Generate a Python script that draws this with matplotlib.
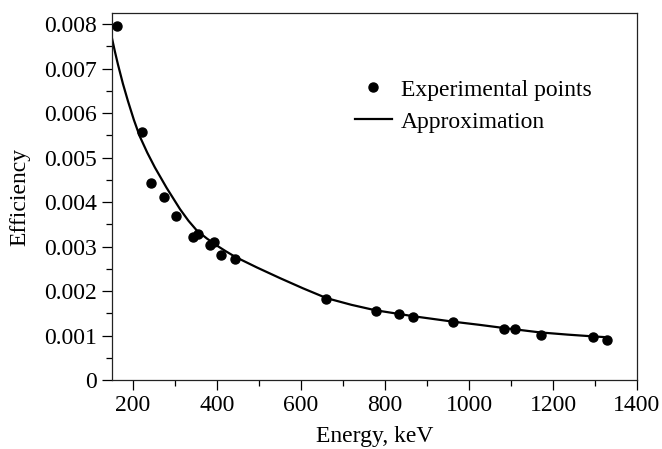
import matplotlib
matplotlib.use("Agg")
import matplotlib.pyplot as plt
from matplotlib.ticker import MultipleLocator, FuncFormatter

# Experimental points (energy keV, efficiency)
energy_exp = [161, 222, 243, 274, 302, 342, 355, 383, 394, 409, 444, 660,
              778, 833, 866, 963, 1083, 1109, 1171, 1296, 1329]
eff_exp = [0.00796, 0.00558, 0.00442, 0.00412, 0.00369, 0.00322, 0.00328,
           0.00303, 0.00311, 0.00282, 0.00273, 0.00182, 0.00156, 0.00148,
           0.00142, 0.00130, 0.00114, 0.00115, 0.00101, 0.00097, 0.00091]

# Approximation curve
energy_fit = [150, 157, 164, 176, 188, 202, 216, 234, 252, 266, 280, 296, 312,
              332, 352, 376, 400, 420, 443, 495, 550, 605, 661, 720, 776, 870,
              963, 1025, 1082, 1169, 1235, 1296, 1330]
eff_fit = [0.00768, 0.00738, 0.00710, 0.00666, 0.00627, 0.00585, 0.00548,
           0.00511, 0.00478, 0.00455, 0.00432, 0.00408, 0.00384, 0.00358,
           0.00336, 0.00318, 0.00302, 0.00290, 0.00277, 0.00253, 0.00229,
           0.00206, 0.00184, 0.00169, 0.00157, 0.00143, 0.00131, 0.00124,
           0.00117, 0.00107, 0.00102, 0.00098, 0.00096]

x_ticks = [200, 400, 600, 800, 1000, 1200, 1400]
y_ticks = [0, 0.001, 0.002, 0.003, 0.004, 0.005, 0.006, 0.007, 0.008]

plt.rcParams['font.family'] = ['Liberation Serif', 'DejaVu Serif']
plt.rcParams['font.size'] = 17

fig = plt.figure(figsize=(6.62, 4.49), dpi=100)
ax = fig.add_axes([112/662, (449-380)/449, 525/662, 367/449])

ax.plot(energy_fit, eff_fit, color='black', lw=1.6, label='Approximation', zorder=2)
ax.plot(energy_exp, eff_exp, 'o', color='black', ms=6.5, label='Experimental points',
        zorder=3)

ax.set_xlim(150, 1400)
ax.set_ylim(0, 0.00825)
ax.set_xticks(x_ticks)
ax.set_yticks(y_ticks)
ax.xaxis.set_minor_locator(MultipleLocator(100))
ax.yaxis.set_minor_locator(MultipleLocator(0.0005))
ax.yaxis.set_major_formatter(FuncFormatter(lambda v, p: '0' if v == 0 else f'{v:.3f}'))

ax.tick_params(which='major', direction='out', length=7, width=0.9, pad=4,
               labelsize=17, top=False, right=False)
ax.tick_params(which='minor', direction='out', length=4, width=0.9,
               top=False, right=False)
for s in ax.spines.values():
    s.set_linewidth(0.9)
    s.set_color('#222222')

ax.set_xlabel('Energy, keV', fontsize=17)
ax.set_ylabel('Efficiency', fontsize=17)
ax.xaxis.set_label_coords(0.5, -0.125)
ax.yaxis.set_label_coords(-0.155, 0.5)

h, l = ax.get_legend_handles_labels()
ax.legend([h[1], h[0]], [l[1], l[0]], loc='upper left',
          bbox_to_anchor=(0.463, 0.82), frameon=False, borderpad=0,
          borderaxespad=0, handlelength=1.55, handletextpad=0.4,
          labelspacing=0.45, fontsize=17)

fig.savefig('out.png', dpi=100)
